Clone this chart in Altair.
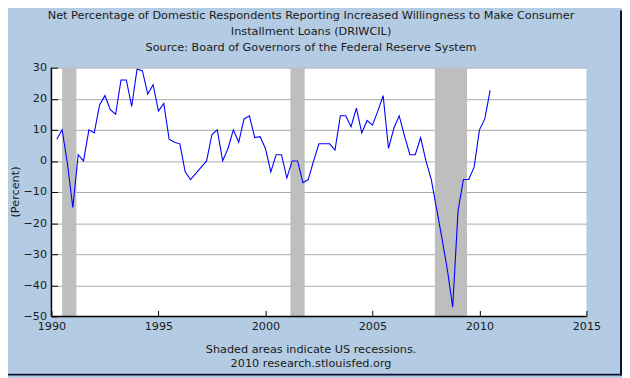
import altair as alt
import pandas as pd

# ---- data (quarterly, first obs 1990 Q2) ----
first_quarter = "1990Q2"
values = [
    7, 10, -1, -15, 2, 0, 10, 9, 18, 21,
    16.5, 15, 26, 26, 17.5, 29.5, 29, 21.5, 24.5, 16,
    18.5, 7, 6, 5.5, -3.5, -6, -4, -2, 0, 8.5,
    10, 0, 4, 10, 6, 13.5, 14.5, 7.5, 7.8, 4,
    -3.5, 2, 2, -5.5, 0, 0, -7, -6, 0, 5.5,
    5.5, 5.5, 3.5, 14.5, 14.5, 11, 17, 9, 13, 11.5,
    16, 21, 4, 10.5, 14.5, 8, 2, 2, 7.5, 0,
    -6, -15.5, -25, -35, -47, -16, -6, -6, -2, 10,
    13.5, 22.7,
]
rec_start = ["1990-07", "2001-03", "2007-12"]
rec_end = ["1991-03", "2001-11", "2009-06"]

x_ticks = [1990, 1995, 2000, 2005, 2010, 2015]
y_ticks = [-50, -40, -30, -20, -10, 0, 10, 20, 30]

title_lines = [
    "Net Percentage of Domestic Respondents Reporting Increased Willingness to Make Consumer",
    "Installment Loans (DRIWCIL)",
    "Source: Board of Governors of the Federal Reserve System",
]
footer_lines = [
    "Shaded areas indicate US recessions.",
    "2010 research.stlouisfed.org",
]
y_title = "(Percent)"

# ---- tables ----
periods = pd.period_range(first_quarter, periods=len(values), freq="Q")
df = pd.DataFrame({
    "year": [p.year + (p.quarter - 1) / 4 for p in periods],
    "value": values,
})


def month_to_dec(s):
    y, m = s.split("-")
    return int(y) + (int(m) - 1) / 12


rec = pd.DataFrame({
    "start": [month_to_dec(s) for s in rec_start],
    "end": [month_to_dec(s) for s in rec_end],
})

# ---- layout ----
W, H = 542, 252
PAD = {"left": 44, "top": 58, "right": 36, "bottom": 60}
FONT = "DejaVu Sans"
TXT = "#1a1a1a"
BG = "#B4CCE3"

xscale = alt.Scale(domain=[1990, 2015], nice=False, zero=False)
yscale = alt.Scale(domain=[-50, 30], nice=False, zero=False)

xaxis = alt.Axis(values=x_ticks, format="d", title=None, grid=False,
                 domain=False, tickSize=6, offset=-6, tickColor="black",
                 labelPadding=4, labelFont=FONT, labelFontSize=11.3,
                 labelColor=TXT, labelFlush=False)
yaxis = alt.Axis(values=y_ticks, format="d", title=None, grid=True,
                 gridColor="#A8A8A8", gridWidth=1, domain=False,
                 tickSize=6, offset=-6, tickColor="black", labelPadding=5,
                 labelFont=FONT, labelFontSize=11.3, labelColor=TXT)

recess = alt.Chart(rec).mark_rect(color="#BEBEBE").encode(
    x=alt.X("start:Q", scale=xscale, axis=xaxis),
    x2="end:Q",
    y=alt.value(0),
    y2=alt.value(H),
)

line = alt.Chart(df).mark_line(color="#0000FF", strokeWidth=1.1).encode(
    x=alt.X("year:Q", scale=xscale, axis=xaxis),
    y=alt.Y("value:Q", scale=yscale, axis=yaxis),
)

axis_lines = [
    alt.Chart(df.head(1)).mark_rule(color="black", strokeWidth=1.5).encode(
        x=alt.value(0), y=alt.value(0), y2=alt.value(H)),
    alt.Chart(df.head(1)).mark_rule(color="black", strokeWidth=1.5).encode(
        x=alt.value(0), x2=alt.value(W), y=alt.value(H)),
]


def text_layer(txt, x, y, angle=0):
    return alt.Chart(pd.DataFrame({"t": [txt]})).mark_text(
        font=FONT, fontSize=11.4, color=TXT, align="center",
        baseline="middle", angle=angle,
    ).encode(text="t:N", x=alt.value(x), y=alt.value(y))


cx = 263
texts = [
    text_layer(title_lines[0], cx, -52),
    text_layer(title_lines[1], cx, -36),
    text_layer(title_lines[2], cx, -20),
    text_layer(footer_lines[0], cx, 286),
    text_layer(footer_lines[1], cx, 300),
    text_layer(y_title, -36, H / 2, angle=270),
]

# outer frame: right and bottom edges only (left/top fall in the page margin)
frame = [
    alt.Chart(df.head(1)).mark_rule(color="#10103A", strokeWidth=2).encode(
        x=alt.value(W + PAD["right"] - 1),
        y=alt.value(-PAD["top"]), y2=alt.value(H + PAD["bottom"])),
    alt.Chart(df.head(1)).mark_rule(color="#10103A", strokeWidth=2).encode(
        x=alt.value(-PAD["left"]), x2=alt.value(W + PAD["right"]),
        y=alt.value(H + PAD["bottom"] - 1)),
]

chart = alt.layer(recess, line, *axis_lines, *texts, *frame).properties(
    width=W, height=H,
    padding=PAD,
    autosize=alt.AutoSizeParams(type="none"),
    background=BG,
).configure_view(fill="white", stroke=None)

chart.save("out.html", embed_options={"renderer": "svg", "actions": False})
